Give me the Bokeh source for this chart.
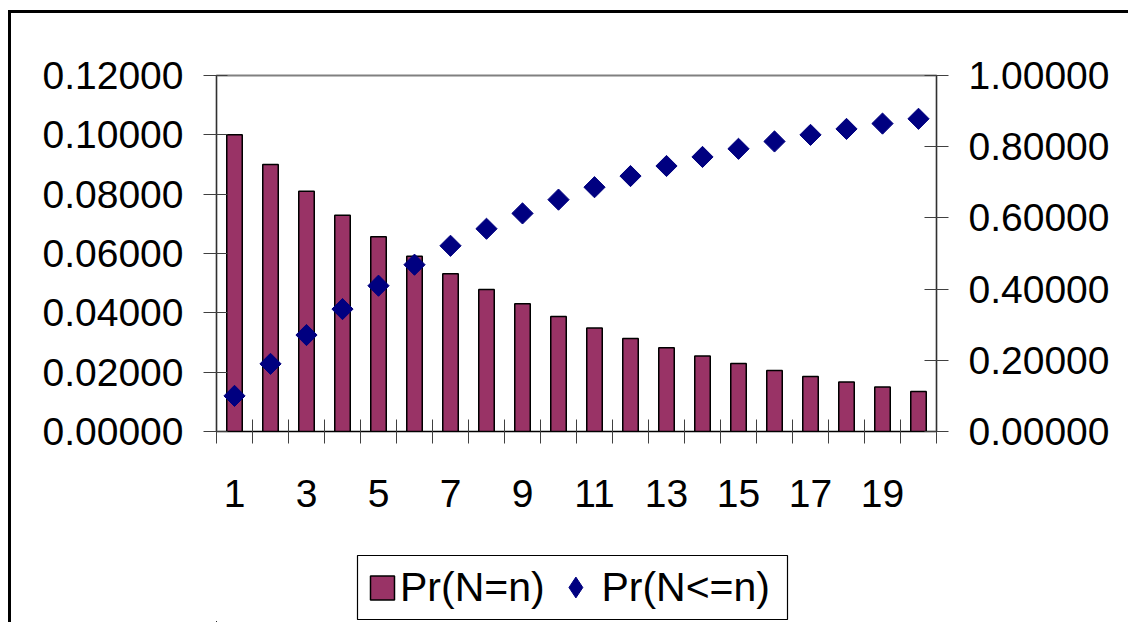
from bokeh.plotting import figure
from bokeh.layouts import column
from bokeh.models import (Range1d, LinearAxis, FixedTicker, NumeralTickFormatter,
                          Legend, LegendItem, InlineStyleSheet, BoxAnnotation)
from bokeh.embed import file_html
from bokeh.resources import INLINE
import math

# Data
n_values = list(range(1, 21))
pr_eq = [0.10000, 0.09000, 0.08100, 0.07290, 0.06561, 0.05905, 0.05314, 0.04783,
         0.04305, 0.03874, 0.03487, 0.03138, 0.02824, 0.02542, 0.02288, 0.02059,
         0.01853, 0.01668, 0.01501, 0.01351]
pr_le = [0.10000, 0.19000, 0.27100, 0.34390, 0.40951, 0.46856, 0.52170, 0.56953,
         0.61258, 0.65132, 0.68619, 0.71757, 0.74581, 0.77123, 0.79411, 0.81470,
         0.83323, 0.84991, 0.86491, 0.87842]
series_names = ["Pr(N=n)", "Pr(N<=n)"]
x_tick_labels = ["1", "3", "5", "7", "9", "11", "13", "15", "17", "19"]
left_ticks = [0.0, 0.02, 0.04, 0.06, 0.08, 0.10, 0.12]
right_ticks = [0.0, 0.2, 0.4, 0.6, 0.8, 1.0]

BAR_COLOR = "#993366"
PT_COLOR = "#000080"
FONT = "Liberation Sans"
FS = "39px"

p = figure(width=1128, height=540, output_backend="svg", toolbar_location=None,
           x_range=Range1d(0.5, 20.5), y_range=Range1d(0, 0.12),
           min_border_left=216, min_border_right=192, min_border_top=75,
           min_border_bottom=109, x_axis_type=None, y_axis_type=None)
p.grid.visible = False
p.background_fill_color = "white"
p.border_fill_color = "white"
p.outline_line_color = "#808080"
p.outline_line_width = 2
p.extra_y_ranges = {"cum": Range1d(0, 1.0)}

bars = p.vbar(x=n_values, top=pr_eq, width=0.43, bottom=0,
              fill_color=BAR_COLOR, line_color="black", line_width=1.5)
pts = p.scatter(x=n_values, y=pr_le, y_range_name="cum", marker="square",
                angle=math.pi / 4, size=15, fill_color=PT_COLOR, line_color=PT_COLOR)

# Bottom axis: labels on odd categories, tick marks between categories
odd = [int(s) for s in x_tick_labels]
xaxis = LinearAxis(ticker=FixedTicker(ticks=odd,
                                      minor_ticks=[k + 0.5 for k in range(0, 21)]),
                   major_label_overrides={k: s for k, s in zip(odd, x_tick_labels)})
xaxis.major_tick_in = 0
xaxis.major_tick_out = 0
xaxis.minor_tick_in = 12
xaxis.minor_tick_out = 12
xaxis.minor_tick_line_color = "#404040"
xaxis.axis_line_color = "black"
xaxis.major_label_standoff = 36
xaxis.major_label_text_font = FONT
xaxis.major_label_text_font_size = FS
xaxis.major_label_text_color = "black"
p.add_layout(xaxis, "below")

# Left axis
yl = LinearAxis(ticker=FixedTicker(ticks=left_ticks),
                formatter=NumeralTickFormatter(format="0.00000"))
yl.major_tick_in = 11
yl.major_tick_out = 13
yl.minor_tick_in = 0
yl.minor_tick_out = 0
yl.major_tick_line_color = "#404040"
yl.axis_line_color = "#303030"
yl.major_label_standoff = 20
yl.major_label_text_font = FONT
yl.major_label_text_font_size = FS
yl.major_label_text_color = "black"
p.add_layout(yl, "left")

# Right axis
yr = LinearAxis(y_range_name="cum", ticker=FixedTicker(ticks=right_ticks),
                formatter=NumeralTickFormatter(format="0.00000"))
yr.major_tick_in = 12
yr.major_tick_out = 12
yr.minor_tick_in = 0
yr.minor_tick_out = 0
yr.major_tick_line_color = "#404040"
yr.axis_line_color = "#303030"
yr.major_label_standoff = 20
yr.major_label_text_font = FONT
yr.major_label_text_font_size = FS
yr.major_label_text_color = "black"
p.add_layout(yr, "right")

p.stylesheets = [InlineStyleSheet(css="""
:host { overflow: hidden; }
:host::after {
  content: ""; position: absolute;
  left: 8px; top: 10px; width: 1200px; height: 900px;
  border-left: 3px solid black; border-top: 3px solid black;
  pointer-events: none; z-index: 10;
}
""")]

# Legend strip below the chart (same frame columns as the chart)
lg = figure(width=1128, height=82, output_backend="svg", toolbar_location=None,
            x_range=Range1d(0, 720), y_range=Range1d(0, 70),
            min_border_left=216, min_border_right=192, min_border_top=12,
            min_border_bottom=0, x_axis_type=None, y_axis_type=None)
lg.grid.visible = False
lg.outline_line_color = None
lg.border_fill_color = "white"
lg.background_fill_color = "white"
lg.extra_x_ranges = {"hidden": Range1d(1000, 2000)}

# legend proxies: same series, drawn on an off-screen range so only the key shows
proxy_bar = lg.vbar(x=n_values, top=pr_eq, width=0.5, x_range_name="hidden",
                    fill_color=BAR_COLOR, line_color="black", line_width=1.5)
proxy_pt = lg.scatter(x=n_values, y=pr_le, x_range_name="hidden", marker="diamond",
                      size=10, fill_color=PT_COLOR, line_color=PT_COLOR)

legend_box = BoxAnnotation(left=141, right=571, top=67, bottom=3,
                           fill_alpha=0, line_color="black", line_alpha=1.0,
                           line_width=1.2)
lg.add_layout(legend_box)

def style_legend(leg):
    leg.label_text_font = FONT
    leg.label_text_font_size = "41px"
    leg.label_text_color = "black"
    leg.border_line_alpha = 0
    leg.background_fill_alpha = 0

leg_a = Legend(items=[LegendItem(label=series_names[0], renderers=[proxy_bar])],
               location="center_left", orientation="horizontal")
style_legend(leg_a)
leg_a.glyph_width = 30
leg_a.glyph_height = 30
leg_a.label_standoff = 3
leg_a.padding = 5
leg_a.margin = 146
lg.add_layout(leg_a, "center")

leg_b = Legend(items=[LegendItem(label=series_names[1], renderers=[proxy_pt])],
               location="center_right", orientation="horizontal")
style_legend(leg_b)
leg_b.glyph_width = 52
leg_b.glyph_height = 52
leg_b.label_standoff = 0
leg_b.padding = 5
leg_b.margin = 161
lg.add_layout(leg_b, "center")

lg.stylesheets = [InlineStyleSheet(css="""
:host { overflow: hidden; }
:host::after {
  content: ""; position: absolute;
  left: 8px; top: 0px; width: 10px; height: 900px;
  border-left: 3px solid black;
  pointer-events: none; z-index: 10;
}
""")]

layout = column(p, lg, spacing=0)
open("out.html", "w").write(file_html(layout, INLINE))
